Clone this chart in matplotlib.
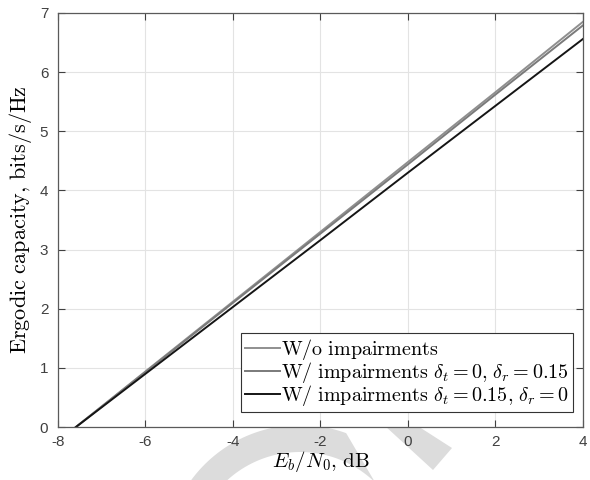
import numpy as np
import matplotlib

matplotlib.use("Agg")
import matplotlib.pyplot as plt
from matplotlib.patches import Polygon

plt.rcParams["mathtext.fontset"] = "cm"
plt.rcParams["font.family"] = ["Liberation Sans", "DejaVu Sans"]
plt.rcParams["axes.unicode_minus"] = False

# Eb/N0 in dB and ergodic capacity (bits/s/Hz)
ebn0_db = [-7.59, -6, -4, -2, 0, 2, 4]
cap_ideal = [0.0, 0.94, 2.12, 3.30, 4.48, 5.66, 6.85]
cap_rx_impair = [0.0, 0.93, 2.10, 3.27, 4.44, 5.62, 6.79]
cap_tx_impair = [0.0, 0.90, 2.03, 3.16, 4.30, 5.43, 6.56]

labels = [
    r"$\mathrm{W/o\ impairments}$",
    r"$\mathrm{W/\ impairments}\ \delta_t = 0{,}\ \delta_r = 0.15$",
    r"$\mathrm{W/\ impairments}\ \delta_t = 0.15{,}\ \delta_r = 0$",
]
colors = ["#8f8f8f", "#7a7a7a", "#151515"]

fig = plt.figure(figsize=(5.9, 4.8), dpi=100)

# light gray watermark behind everything (pixel coords, y up)
cx, cy = 300, -80
th_out = np.radians(np.linspace(70, 165, 60))
th_in = np.radians(np.linspace(165, 46, 60))
ring = np.vstack([
    np.column_stack([cx + 135 * np.cos(th_out), cy + 135 * np.sin(th_out)]),
    np.column_stack([cx + 108 * np.cos(th_in), cy + 108 * np.sin(th_in)]),
])
fig.patches.append(Polygon(ring, closed=True, transform=None,
                           facecolor="#dcdcdc", edgecolor="none", zorder=-5))
bar = [(372, 66), (399, 66), (452, 32), (433, 10)]
fig.patches.append(Polygon(bar, closed=True, transform=None,
                           facecolor="#dcdcdc", edgecolor="none", zorder=-5))

ax = fig.add_axes([0.0983, 0.1104, 0.8897, 0.8626])
ax.set_facecolor("white")
for y, c, lab in zip([cap_ideal, cap_rx_impair, cap_tx_impair], colors, labels):
    ax.plot(ebn0_db, y, color=c, linewidth=1.4, label=lab)

ax.set_xlim(-8, 4)
ax.set_ylim(0, 7)
ax.set_xticks(np.arange(-8, 5, 2))
ax.set_yticks(np.arange(0, 8, 1))
ax.grid(True, color="#e3e3e3", linewidth=0.8)
ax.set_axisbelow(True)
ax.tick_params(direction="in", top=True, right=True, length=5,
               labelsize=11, colors="#404040", width=0.8)
ax.tick_params(axis="x", pad=6)
ax.tick_params(axis="y", pad=7)
for s in ax.spines.values():
    s.set_color("#5a5a5a")
    s.set_linewidth(0.9)

ax.set_xlabel(r"$E_b/N_0{,}\ \mathrm{dB}$", fontsize=15, labelpad=0)
ax.set_ylabel(r"$\mathrm{Ergodic\ capacity{,}\ bits/s/Hz}$", fontsize=16, labelpad=4)

leg = ax.legend(loc="lower right", bbox_to_anchor=(0.981, 0.036),
                fontsize=14.5, handlelength=1.75, handletextpad=0.05,
                borderpad=0.2, labelspacing=-0.1, fancybox=False,
                framealpha=1, borderaxespad=0)
leg.get_frame().set_edgecolor("#333333")
leg.get_frame().set_linewidth(0.8)

fig.savefig("out.png", dpi=100)
